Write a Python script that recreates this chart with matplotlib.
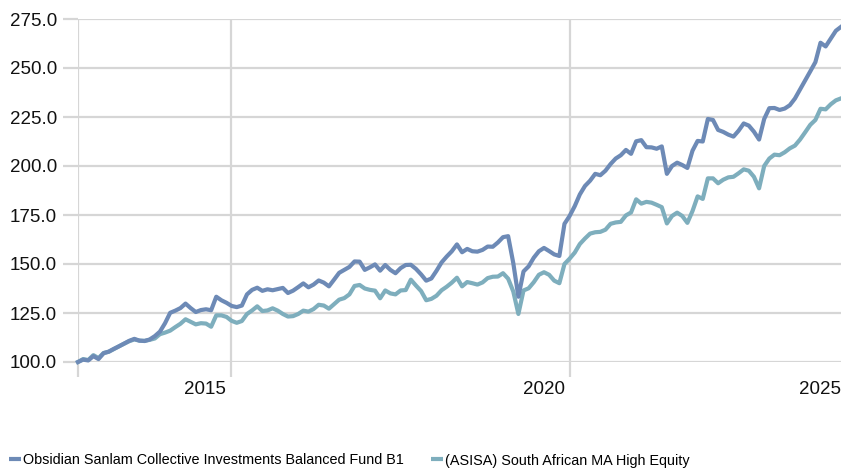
import numpy as np
import matplotlib.pyplot as plt
from matplotlib.lines import Line2D

plt.rcParams['font.family'] = ['Liberation Sans', 'DejaVu Sans']

# growth of 100, monthly points
fund = [
    100.0, 101.2, 100.8, 103.0, 101.5, 104.5, 105.3, 106.7, 108.0, 109.4,
    110.8, 111.8, 110.9, 110.7, 111.5, 113.2, 115.5, 119.8, 125.1, 126.2,
    127.5, 129.8, 127.5, 125.5, 126.5, 126.9, 126.4, 133.3, 131.5, 130.2,
    128.6, 128.0, 128.8, 134.5, 136.8, 137.9, 136.3, 137.1, 136.6, 137.2,
    137.8, 135.2, 136.4, 138.2, 140.1, 138.1, 139.5, 141.6, 140.5, 138.6,
    142.0, 145.5, 147.0, 148.5, 151.3, 151.2, 147.0, 148.3, 149.8, 146.6,
    149.5, 147.0, 145.3, 147.9, 149.5, 149.6, 147.5, 144.7, 141.5, 142.6,
    146.5, 150.8, 153.8, 156.5, 160.0, 156.0, 157.7, 156.5, 156.3, 157.2,
    158.9, 158.8, 161.0, 163.7, 164.2, 150.5, 133.3, 146.2, 148.8, 153.2,
    156.5, 158.2, 156.6, 154.9, 154.1, 170.5, 174.5, 179.5, 185.5, 189.8,
    192.5, 196.0, 195.3, 197.6, 201.0, 203.8, 205.5, 208.2, 206.2, 212.6,
    213.2, 209.6, 209.5, 208.8, 210.0, 196.0, 200.0, 201.7, 200.5, 199.0,
    207.8, 212.8, 212.5, 224.0, 223.5, 218.4, 217.4, 216.0, 215.0, 218.0,
    221.7, 220.6, 217.5, 213.5, 224.0, 229.5, 229.6, 228.6, 229.3, 231.0,
    234.4, 239.0, 243.7, 248.3, 253.0, 262.9, 261.0, 265.0, 269.0, 271.0,
]

sector = [
    100.0, 101.5, 101.0, 103.5, 102.0, 104.6, 105.2, 106.6, 108.0, 109.3,
    110.6, 111.5, 110.9, 110.8, 111.3, 112.0, 114.2, 115.0, 116.0, 117.8,
    119.5, 121.8, 120.5, 119.2, 119.8, 119.6, 118.0, 123.8, 123.8, 123.0,
    121.0, 120.0, 120.9, 124.5, 126.3, 128.4, 126.0, 126.3, 127.4, 126.2,
    124.5, 123.2, 123.4, 124.5, 126.2, 125.7, 127.0, 129.2, 128.8, 127.2,
    129.5, 131.8, 132.6, 134.5, 138.8, 139.3, 137.5, 136.8, 136.4, 132.5,
    136.5, 135.0, 134.5, 136.5, 136.7, 142.0, 139.0, 136.2, 131.5, 132.2,
    133.8, 136.6, 138.4, 140.5, 143.0, 138.6, 140.8, 140.2, 139.5, 140.6,
    142.8, 143.5, 143.6, 145.3, 142.5, 136.0, 124.5, 136.5, 137.6, 140.7,
    144.5, 145.8, 144.5, 141.5, 140.2, 150.0, 152.7, 155.8, 160.2, 163.0,
    165.5, 166.2, 166.4, 167.5, 170.5, 171.2, 171.5, 174.8, 176.3, 183.0,
    180.8, 181.7, 181.3, 180.2, 179.0, 170.7, 174.5, 176.2, 174.5, 171.0,
    177.0, 184.5, 183.2, 193.7, 193.7, 191.2, 193.0, 194.2, 194.5, 196.3,
    198.3, 197.6, 194.5, 188.6, 200.0, 203.8, 205.8, 205.5, 207.0, 209.0,
    210.4, 213.5, 217.2, 221.0, 223.5, 229.2, 228.9, 231.5, 233.5, 234.5,
]

names = ['Obsidian Sanlam Collective Investments Balanced Fund B1',
         '(ASISA) South African MA High Equity']
colors = ['#6d8ab6', '#7eaebd']

y_ticks = [100, 125, 150, 175, 200, 225, 250, 275]
year_labels = ['2015', '2020', '2025']
grid_pos = [0, 29.9, 96.1]      # vertical grid lines (month index)
label_pos = [28.9, 95.1, 149]   # labels sit right-aligned left of the lines

months = np.arange(len(fund))
grid_col = '#d6d6d6'

fig = plt.figure(figsize=(8.41, 4.70), dpi=100)
ax = fig.add_axes([78 / 841, 108 / 470, 763 / 841, 343 / 470])

ax.plot(months, sector, color=colors[1], lw=3.0, clip_on=False, zorder=3)
ax.plot(months, fund, color=colors[0], lw=3.0, clip_on=False, zorder=4)

ax.set_xlim(0, len(fund) - 1)
ax.set_ylim(100, 275)

for s in ax.spines.values():
    s.set_visible(False)

ax.set_yticks(y_ticks, [f'{v:.1f}' for v in y_ticks])
ax.set_xticks(grid_pos, ['', '', ''])
ax.set_xticks(label_pos, year_labels, minor=True)
for lab in ax.get_xticklabels(minor=True):
    lab.set_ha('right')

ax.grid(True, which='major', color=grid_col, lw=1.6)
ax.set_axisbelow(True)
ax.tick_params(axis='y', length=11, width=1.6, color=grid_col, pad=4,
               labelsize=13.5, labelcolor='#111111')
ax.tick_params(axis='x', which='major', length=11, width=1.6, color=grid_col)
ax.tick_params(axis='x', which='minor', length=0, pad=14,
               labelsize=13.5, labelcolor='#111111')

handles = [Line2D([], [], color=c, lw=3, solid_capstyle='butt') for c in colors]
fig.legend(handles, names, loc='center left', bbox_to_anchor=(9 / 841, 9.5 / 470),
           ncol=2, frameon=False, fontsize=10.4, handlelength=0.85,
           handletextpad=0.15, columnspacing=1.85, borderpad=0, borderaxespad=0)

fig.savefig('out.png', dpi=100)
